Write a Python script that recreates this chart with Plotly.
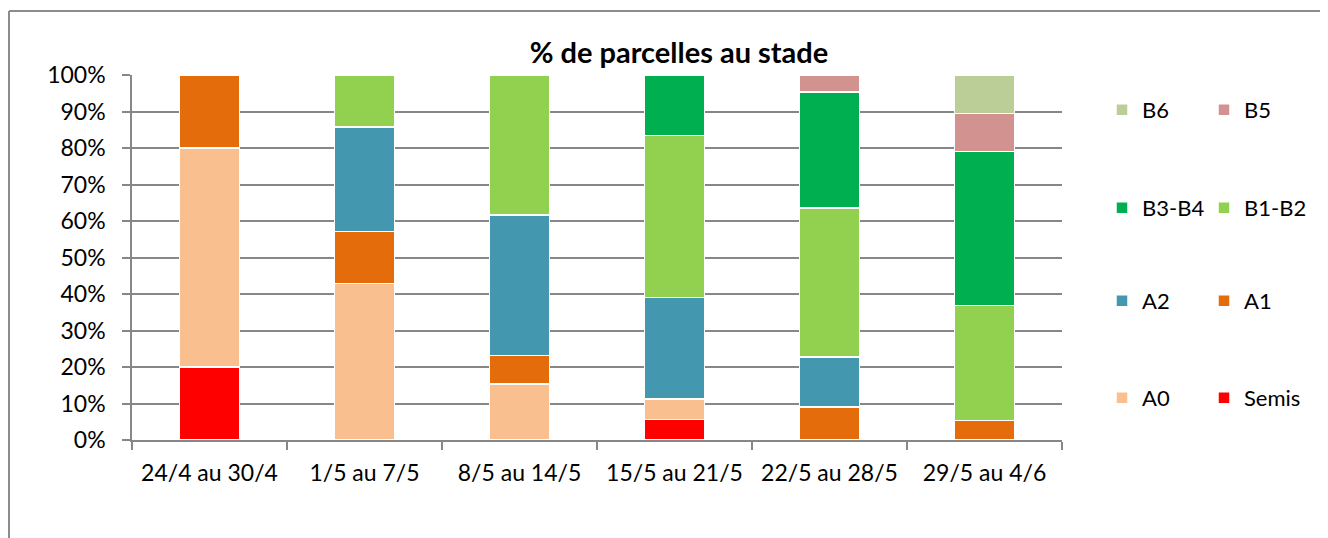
import plotly.graph_objects as go

categories = ["24/4 au 30/4", "1/5 au 7/5", "8/5 au 14/5", "15/5 au 21/5", "22/5 au 28/5", "29/5 au 4/6"]

semis = [20.0, None, None, 5.6, None, None]
a0 = [60.0, 42.9, 15.4, 5.6, None, None]
a1 = [20.0, 14.2, 7.7, None, 9.1, 5.3]
a2 = [None, 28.6, 38.5, 27.8, 13.6, None]
b1_b2 = [None, 14.3, 38.4, 44.4, 40.9, 31.6]
b3_b4 = [None, None, None, 16.6, 31.8, 42.1]
b5 = [None, None, None, None, 4.6, 10.5]
b6 = [None, None, None, None, None, 10.5]

series_names = ["Semis", "A0", "A1", "A2", "B1-B2", "B3-B4", "B5", "B6"]
series_values = [semis, a0, a1, a2, b1_b2, b3_b4, b5, b6]
series_colors = ["#FF0000", "#F9BF8F", "#E46C0A", "#4397AF", "#92D050", "#00B050", "#D29290", "#BBCE98"]
legend_groups = ["legend4", "legend4", "legend3", "legend3", "legend2", "legend2", "legend", "legend"]

y_ticks = [0, 10, 20, 30, 40, 50, 60, 70, 80, 90, 100]

W, H = 1328, 538
OFF = 8  # page body margin
# plot area in screen pixels
L, R, T, B = 132, 1062, 75, 440
pw, ph = R - L, B - T

def px_to_paper_x(x):
    return (x - L) / pw

def px_to_paper_y(y):
    return (B - y) / ph

FONT = "Lato"
fig = go.Figure()
for name, vals, col, lg in zip(series_names, series_values, series_colors, legend_groups):
    fig.add_trace(go.Bar(
        name=name, x=categories, y=vals,
        marker=dict(color=col, line=dict(color="white", width=1.5)),
        legend=lg,
    ))

grid_col = "#878787"
leg_common = dict(orientation="h", traceorder="reversed", bgcolor="rgba(0,0,0,0)",
                  font=dict(family=FONT, size=22, color="#000000"),
                  entrywidth=57, entrywidthmode="pixels", itemwidth=30,
                  xanchor="left", yanchor="middle", x=px_to_paper_x(1102))

fig.update_layout(
    width=W, height=H, autosize=False,
    margin=dict(l=L - OFF, r=W - (R - OFF), t=T - OFF, b=H - (B - OFF), pad=0),
    paper_bgcolor="white", plot_bgcolor="white",
    barmode="stack", bargap=0.613,
    font=dict(family=FONT, size=23, color="#000000"),
    title=dict(text="<b>% de parcelles au stade</b>", x=(679 - OFF) / W, xanchor="center",
               y=1 - (53 - OFF) / H, yanchor="middle", xref="container", yref="container",
               font=dict(family=FONT, size=29, color="#000000")),
    legend=dict(leg_common, y=px_to_paper_y(110)),
    legend2=dict(leg_common, y=px_to_paper_y(208)),
    legend3=dict(leg_common, y=px_to_paper_y(301)),
    legend4=dict(leg_common, y=px_to_paper_y(398)),
    xaxis=dict(type="category", showline=True, linecolor=grid_col, linewidth=1.5,
               ticks="outside", tickson="boundaries", ticklen=8, tickcolor=grid_col, tickwidth=1.5,
               ticklabelstandoff=12,
               tickfont=dict(family=FONT, size=23, color="#000000"), showgrid=False),
    yaxis=dict(range=[0, 100], tickvals=y_ticks, ticktext=[f"{v}%" for v in y_ticks],
               showgrid=True, gridcolor=grid_col, gridwidth=1.5,
               showline=True, linecolor=grid_col, linewidth=1.5,
               ticks="outside", ticklen=8, tickcolor=grid_col, tickwidth=1.5,
               ticklabelstandoff=12,
               tickfont=dict(family=FONT, size=23, color="#000000"), zeroline=False),
    shapes=[
        dict(type="line", xref="paper", yref="paper",
             x0=px_to_paper_x(9), x1=px_to_paper_x(W + 20), y0=px_to_paper_y(11), y1=px_to_paper_y(11),
             line=dict(color="#8C8C8C", width=2)),
        dict(type="line", xref="paper", yref="paper",
             x0=px_to_paper_x(9), x1=px_to_paper_x(9), y0=px_to_paper_y(11), y1=px_to_paper_y(H + 20),
             line=dict(color="#8C8C8C", width=2)),
    ],
)

fig.write_html("out.html")
